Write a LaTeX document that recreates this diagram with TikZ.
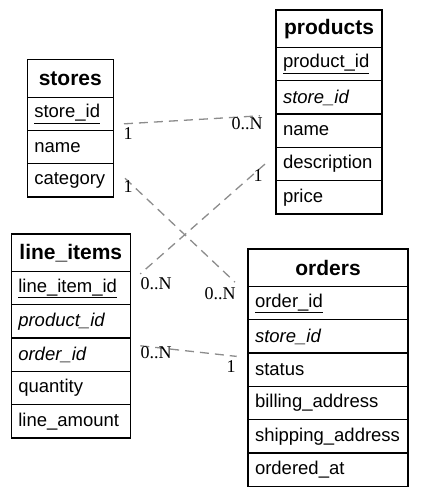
\documentclass[tikz,border=0pt]{standalone}
\usepackage{fontspec}
\setmainfont{Liberation Serif}
\setsansfont{Liberation Sans}
\usepackage{xcolor}
\usetikzlibrary{positioning}
\definecolor{reldash}{RGB}{140,140,140}
\tikzset{
  tblhead/.style={
    rectangle,
    draw=black,
    line width=1.2pt,
    align=center,
    minimum height=37.5pt,
    inner xsep=7pt,
    inner ysep=0pt,
    outer sep=0pt,
    font=\sffamily\bfseries\fontsize{21}{25}\selectfont
  },
  tblrow/.style={
    rectangle,
    draw=black,
    line width=1.2pt,
    align=left,
    minimum height=33.3pt,
    inner xsep=7pt,
    inner ysep=0pt,
    outer sep=0pt,
    font=\sffamily\fontsize{18.5}{22}\selectfont
  },
  relline/.style={
    draw=reldash,
    line width=1.3pt,
    dash pattern=on 9pt off 6pt
  },
  card/.style={
    inner sep=0pt,
    font=\rmfamily\fontsize{18}{20}\selectfont
  }
}
\begin{document}
\begin{tikzpicture}[x=1pt,y=1pt,node distance=0pt]
\useasboundingbox (0,0) rectangle (447,494);

% stores
\node[tblhead, text width=72pt, anchor=north west] (stores) at (27.3,434.3) {stores};
\node[tblrow, text width=72pt, below=of stores] (stores-id) {\underline{store\_id}};
\node[tblrow, text width=72pt, below=of stores-id] (stores-name) {name};
\node[tblrow, text width=72pt, below=of stores-name] (stores-cat) {category};

% products
\node[tblhead, text width=92pt, anchor=north west] (prod) at (276,484) {products};
\node[tblrow, text width=92pt, below=of prod] (prod-id) {\underline{product\_id}};
\node[tblrow, text width=92pt, below=of prod-id] (prod-store) {\itshape store\_id};
\node[tblrow, text width=92pt, below=of prod-store] (prod-name) {name};
\node[tblrow, text width=92pt, below=of prod-name] (prod-desc) {description};
\node[tblrow, text width=92pt, below=of prod-desc] (prod-price) {price};

% line_items
\node[tblhead, text width=105pt, anchor=north west] (items) at (11.3,260) {line\_items};
\node[tblrow, text width=105pt, below=of items] (items-id) {\underline{line\_item\_id}};
\node[tblrow, text width=105pt, below=of items-id] (items-prod) {\itshape product\_id};
\node[tblrow, text width=105pt, below=of items-prod] (items-order) {\itshape order\_id};
\node[tblrow, text width=105pt, below=of items-order] (items-qty) {quantity};
\node[tblrow, text width=105pt, below=of items-qty] (items-amt) {line\_amount};

% orders
\node[tblhead, text width=146pt, anchor=north west] (orders) at (248,245) {orders};
\node[tblrow, text width=146pt, below=of orders] (ord-id) {\underline{order\_id}};
\node[tblrow, text width=146pt, below=of ord-id] (ord-store) {\itshape store\_id};
\node[tblrow, text width=146pt, below=of ord-store] (ord-status) {status};
\node[tblrow, text width=146pt, below=of ord-status] (ord-bill) {billing\_address};
\node[tblrow, text width=146pt, below=of ord-bill] (ord-ship) {shipping\_address};
\node[tblrow, text width=146pt, below=of ord-ship] (ord-at) {ordered\_at};

% relations
\draw[relline] ([shift={(10.7pt,-10pt)}]stores-id.east) -- ([shift={(-16pt,-1.7pt)}]prod-store.south west);
\node[card] (c1a) at ([shift={(14.7pt,-19.7pt)}]stores-id.east) {1};
\node[card] (c1b) at ([shift={(-29pt,-10pt)}]prod-store.south west) {0..N};

\draw[relline] ([shift={(11.7pt,2.2pt)}]stores-cat.east) -- ([shift={(-13pt,4.3pt)}]orders.south west);
\node[card] (c2a) at ([shift={(14.7pt,-5.8pt)}]stores-cat.east) {1};
\node[card] (c2b) at ([shift={(-28pt,-6.7pt)}]orders.south west) {0..N};

\draw[relline] ([shift={(-11pt,0pt)}]prod-desc.west) -- ([shift={(10pt,14.3pt)}]items-id.east);
\node[card] (c3a) at ([shift={(-18pt,-11.7pt)}]prod-desc.west) {1};
\node[card] (c3b) at ([shift={(25.7pt,4.3pt)}]items-id.east) {0..N};

\draw[relline] ([shift={(10pt,9pt)}]items-order.east) -- ([shift={(-11.3pt,-3.3pt)}]ord-status.north west);
\node[card] (c4a) at ([shift={(25.7pt,1.7pt)}]items-order.east) {0..N};
\node[card] (c4b) at ([shift={(-17pt,-13pt)}]ord-status.north west) {1};
\end{tikzpicture}
\end{document}
